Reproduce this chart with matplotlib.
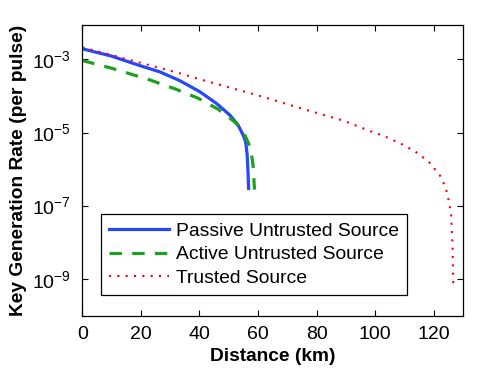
import numpy as np
import matplotlib
matplotlib.use('Agg')
from matplotlib import pyplot as plt

plt.rcParams['font.family'] = ['Liberation Sans', 'DejaVu Sans']
plt.rcParams['mathtext.fontset'] = 'custom'
plt.rcParams['mathtext.rm'] = 'Liberation Sans'

#### D A T A  (log10 of key rate)

passive_km = [0, 10, 19.7, 26.5, 33.3, 40.1, 45.8, 50.4, 53.2, 54.9, 55.8, 56.3, 56.6, 56.8]
passive_log = [-2.71, -2.91, -3.17, -3.34, -3.58, -3.88, -4.20, -4.52, -4.79, -5.06, -5.25, -5.6, -6.1, -6.52]

active_km = [0, 10, 23.1, 32.2, 39.6, 46.4, 52.3, 55, 56.8, 57.8, 58.3, 58.8]
active_log = [-3.03, -3.24, -3.56, -3.82, -4.06, -4.36, -4.72, -4.98, -5.29, -5.6, -5.88, -6.55]

trusted_km = [0, 17, 33.3, 40, 60, 77, 89.2, 97.5, 103, 108.6, 113.8, 118.3, 122, 124, 125.1, 125.9, 126.4, 126.7]
trusted_log = [-2.67, -3.03, -3.38, -3.54, -3.98, -4.39, -4.67, -4.93, -5.09, -5.29, -5.52, -5.79, -6.15,
               -6.47, -6.84, -7.2, -8.0, -9.2]

labels = ['Passive Untrusted Source', 'Active Untrusted Source', 'Trusted Source']

passive_rate = 10.0 ** np.array(passive_log)
active_rate = 10.0 ** np.array(active_log)
trusted_rate = 10.0 ** np.array(trusted_log)

#### P L O T

fig = plt.figure(figsize=(4.91, 3.74), dpi=100)
ax = fig.add_axes([0.1676, 0.155, 0.7754, 0.7773])

ax.semilogy(passive_km, passive_rate, color='#2646ff', lw=2.3, label=labels[0])
ax.semilogy(active_km, active_rate, color='#1ea01e', lw=2.3, linestyle=(0, (3.9, 3.2)), label=labels[1])
ax.semilogy(trusted_km, trusted_rate, color='#ff0000', lw=1.5, linestyle=(0, (1.0, 3.0)), label=labels[2])

ax.set_xlim(0, 130)
ax.set_ylim(1e-10, 10 ** -2.07)
ax.set_xticks([0, 20, 40, 60, 80, 100, 120])
ax.set_yticks([1e-9, 1e-7, 1e-5, 1e-3])
ax.set_yticklabels([r'$10^{-9}$', r'$10^{-7}$', r'$10^{-5}$', r'$10^{-3}$'])
ax.minorticks_off()
ax.tick_params(direction='in', top=True, right=True, length=4, width=0.8, labelsize=14)
ax.tick_params(axis='x', pad=7)
ax.tick_params(axis='y', pad=8)
for s in ax.spines.values():
    s.set_linewidth(0.9)

ax.set_xlabel('Distance (km)', fontsize=13.8, fontweight='bold', labelpad=4)
ax.set_ylabel('Key Generation Rate (per pulse)', fontsize=13.8, fontweight='bold', labelpad=4)

leg = ax.legend(loc='lower left', bbox_to_anchor=(0.049, 0.072), borderaxespad=0,
                fontsize=13.9, handlelength=3.1, handletextpad=0.35, labelspacing=0.32,
                borderpad=0.42, fancybox=False, framealpha=1, edgecolor='black')
leg.get_frame().set_linewidth(0.9)

plt.savefig('out.png', dpi=100)
